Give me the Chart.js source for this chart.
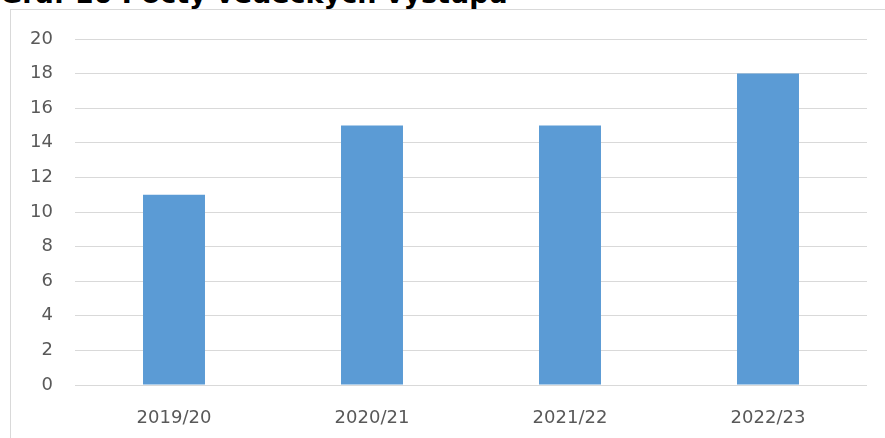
<!DOCTYPE html>
<html>
<head>
<meta charset="utf-8">
<script src="https://cdn.jsdelivr.net/npm/chart.js@4"></script>
<style>
    html, body { margin: 0; padding: 0; background: #fff; overflow: hidden; }
    body { width: 885px; height: 438px; position: relative; }
    #frame {
        position: absolute; left: 10px; top: 9px; width: 875px; height: 429px;
        border-left: 1px solid #d9d9d9; border-top: 1px solid #d9d9d9;
    }
    #title {
        position: absolute; left: 0; top: -21px; z-index: 2;
        font-family: "DejaVu Sans", sans-serif; font-weight: bold; font-size: 27px;
        line-height: 30px; color: #000; white-space: nowrap;
    }
</style>
</head>
<body>
<div id="title">Graf 10 Počty vědeckých výstupů</div>
<div id="frame"><canvas id="chart"></canvas></div>
<script>
// Data
const categories = ['2019/20', '2020/21', '2021/22', '2022/23'];
const outputs = [11, 15, 15, 18];
const yTicks = [0, 2, 4, 6, 8, 10, 12, 14, 16, 18, 20];

const labelFont = { family: '"DejaVu Sans", sans-serif', size: 18 };

new Chart(document.getElementById('chart'), {
    type: 'bar',
    data: {
        labels: categories,
        datasets: [{
            data: outputs,
            backgroundColor: '#5b9bd5',
            categoryPercentage: 1,
            barPercentage: 0.313
        }]
    },
    options: {
        responsive: true,
        maintainAspectRatio: false,
        animation: false,
        layout: { padding: { top: 0, right: 19, left: 0, bottom: 0 } },
        plugins: { legend: { display: false }, tooltip: { enabled: false } },
        scales: {
            x: {
                grid: { display: false },
                border: { display: false },
                ticks: { color: '#595959', font: labelFont, padding: 15 },
                afterFit: scale => { scale.height = 54; }
            },
            y: {
                min: 0,
                max: 20,
                afterBuildTicks: scale => { scale.ticks = yTicks.map(v => ({ value: v })); },
                grid: { color: '#d9d9d9', lineWidth: 1, drawTicks: false },
                border: { display: false },
                ticks: { color: '#595959', font: labelFont, padding: 22 },
                afterFit: scale => {
                    scale.width = 64;
                    // tick padding gets added to the top gap, pin it instead
                    scale.paddingTop = 29;
                }
            }
        }
    }
});
</script>
</body>
</html>
